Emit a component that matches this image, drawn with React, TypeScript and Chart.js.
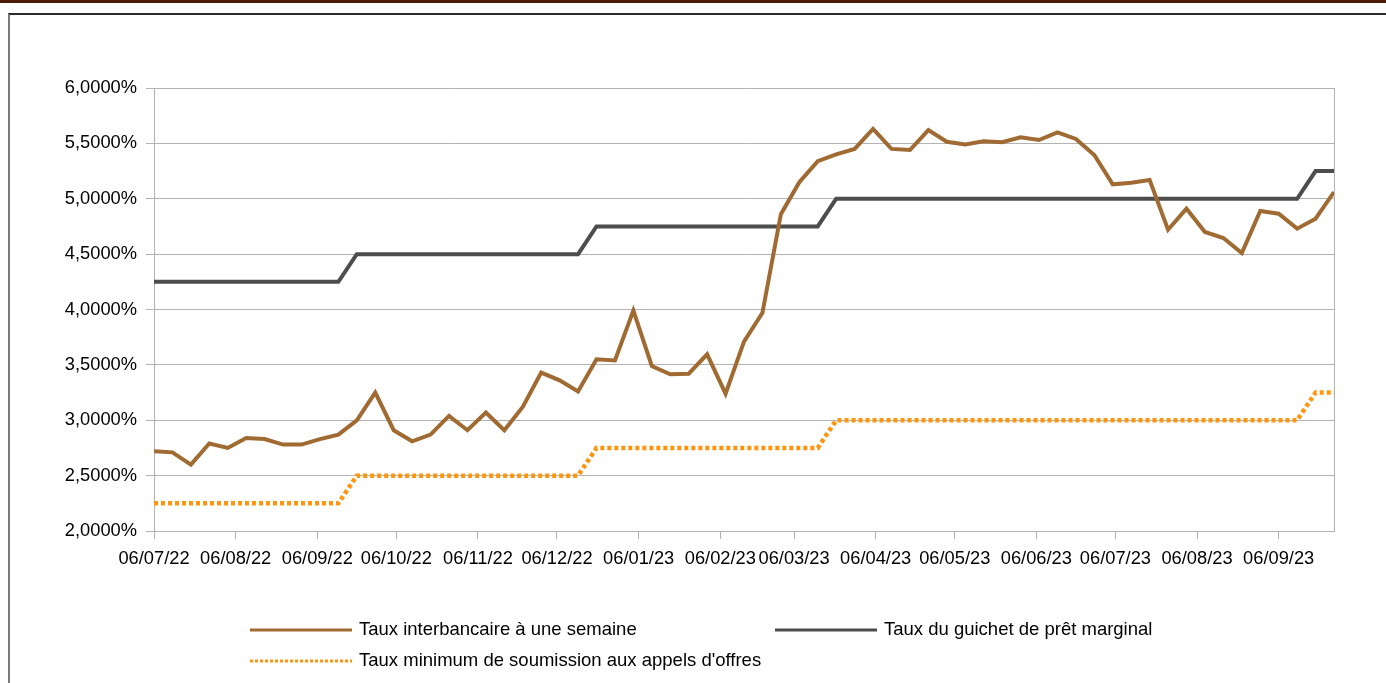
import React, { useEffect, useRef } from "react";
import { Chart, registerables } from "chart.js";

Chart.register(...registerables);

// Weekly observation dates
const weekDates = [
  "2022-07-06", "2022-07-13", "2022-07-20", "2022-07-27", "2022-08-03", "2022-08-10", "2022-08-17",
  "2022-08-24", "2022-08-31", "2022-09-07", "2022-09-14", "2022-09-21", "2022-09-28", "2022-10-05",
  "2022-10-12", "2022-10-19", "2022-10-26", "2022-11-02", "2022-11-09", "2022-11-16", "2022-11-23",
  "2022-11-30", "2022-12-07", "2022-12-14", "2022-12-21", "2022-12-28", "2023-01-04", "2023-01-11",
  "2023-01-18", "2023-01-25", "2023-02-01", "2023-02-08", "2023-02-15", "2023-02-22", "2023-03-01",
  "2023-03-08", "2023-03-15", "2023-03-22", "2023-03-29", "2023-04-05", "2023-04-12", "2023-04-19",
  "2023-04-26", "2023-05-03", "2023-05-10", "2023-05-17", "2023-05-24", "2023-05-31", "2023-06-07",
  "2023-06-14", "2023-06-21", "2023-06-28", "2023-07-05", "2023-07-12", "2023-07-19", "2023-07-26",
  "2023-08-02", "2023-08-09", "2023-08-16", "2023-08-23", "2023-08-30", "2023-09-06", "2023-09-13",
  "2023-09-20", "2023-09-27",
];

const interbankRate = [
  2.72, 2.71, 2.6, 2.79, 2.75, 2.84, 2.83, 2.78, 2.78, 2.83, 2.87, 3.0, 3.25, 2.91,
  2.81, 2.87, 3.04, 2.91, 3.07, 2.91, 3.12, 3.43, 3.36, 3.26, 3.55, 3.54, 3.99, 3.49,
  3.415, 3.42, 3.595, 3.24, 3.71, 3.97, 4.86, 5.15, 5.34, 5.4, 5.45, 5.63, 5.45, 5.44,
  5.62, 5.515, 5.49, 5.52, 5.51, 5.555, 5.53, 5.6, 5.54, 5.395, 5.13, 5.145, 5.17, 4.72,
  4.91, 4.7, 4.645, 4.51, 4.89, 4.865, 4.73, 4.82, 5.06,
];

const marginalLendingRate = [
  4.25, 4.25, 4.25, 4.25, 4.25, 4.25, 4.25, 4.25, 4.25, 4.25, 4.25, 4.5, 4.5, 4.5,
  4.5, 4.5, 4.5, 4.5, 4.5, 4.5, 4.5, 4.5, 4.5, 4.5, 4.75, 4.75, 4.75, 4.75,
  4.75, 4.75, 4.75, 4.75, 4.75, 4.75, 4.75, 4.75, 4.75, 5.0, 5.0, 5.0, 5.0, 5.0,
  5.0, 5.0, 5.0, 5.0, 5.0, 5.0, 5.0, 5.0, 5.0, 5.0, 5.0, 5.0, 5.0, 5.0,
  5.0, 5.0, 5.0, 5.0, 5.0, 5.0, 5.0, 5.25, 5.25,
];

const minimumBidRate = [
  2.25, 2.25, 2.25, 2.25, 2.25, 2.25, 2.25, 2.25, 2.25, 2.25, 2.25, 2.5, 2.5, 2.5,
  2.5, 2.5, 2.5, 2.5, 2.5, 2.5, 2.5, 2.5, 2.5, 2.5, 2.75, 2.75, 2.75, 2.75,
  2.75, 2.75, 2.75, 2.75, 2.75, 2.75, 2.75, 2.75, 2.75, 3.0, 3.0, 3.0, 3.0, 3.0,
  3.0, 3.0, 3.0, 3.0, 3.0, 3.0, 3.0, 3.0, 3.0, 3.0, 3.0, 3.0, 3.0, 3.0,
  3.0, 3.0, 3.0, 3.0, 3.0, 3.0, 3.0, 3.25, 3.25,
];

const monthTickLabels = [
  "06/07/22", "06/08/22", "06/09/22", "06/10/22", "06/11/22", "06/12/22", "06/01/23",
  "06/02/23", "06/03/23", "06/04/23", "06/05/23", "06/06/23", "06/07/23", "06/08/23", "06/09/23",
];

const seriesLabels = [
  "Taux interbancaire à une semaine",
  "Taux du guichet de prêt marginal",
  "Taux minimum de soumission aux appels d'offres",
];

const DAY_MS = 86400000;
const START_MS = Date.UTC(2022, 6, 6);
const isoToDay = (iso: string) => {
  const [y, m, d] = iso.split("-").map(Number);
  return Math.round((Date.UTC(y, m - 1, d) - START_MS) / DAY_MS);
};
const labelToDay = (lab: string) => {
  const [d, m, y] = lab.split("/").map(Number);
  return Math.round((Date.UTC(2000 + y, m - 1, d) - START_MS) / DAY_MS);
};
const weekDays = weekDates.map(isoToDay);
const monthTickDays = monthTickLabels.map(labelToDay);
const toPoints = (vals: number[]) => vals.map((v, i) => ({ x: weekDays[i], y: v }));

const FONT_FAMILY = "'Liberation Sans', Arial, Helvetica, sans-serif";
const GRID = "#b3b3b3";

const legendPlugin = {
  id: "customLegendAndFrame",
  beforeDatasetsDraw(chart: any) {
    const { ctx, chartArea } = chart;
    ctx.save();
    ctx.strokeStyle = GRID;
    ctx.lineWidth = 1;
    ctx.beginPath();
    ctx.moveTo(Math.round(chartArea.right) + 0.5, chartArea.top);
    ctx.lineTo(Math.round(chartArea.right) + 0.5, chartArea.bottom);
    ctx.stroke();
    ctx.restore();
  },
  afterDraw(chart: any) {
    const ctx = chart.ctx;
    const slots = [
      { x: 250, y: 630 },
      { x: 775, y: 630 },
      { x: 250, y: 661 },
    ];
    chart.data.datasets.forEach((ds: any, i: number) => {
      const s = slots[i];
      ctx.save();
      ctx.strokeStyle = ds.borderColor;
      ctx.lineWidth = 3;
      ctx.lineCap = "butt";
      ctx.setLineDash(ds.borderDash ? [3, 2] : []);
      ctx.beginPath();
      ctx.moveTo(s.x, s.y);
      ctx.lineTo(s.x + 102, s.y);
      ctx.stroke();
      ctx.setLineDash([]);
      ctx.fillStyle = "#000";
      ctx.font = `18.5px ${FONT_FAMILY}`;
      ctx.textBaseline = "middle";
      ctx.textAlign = "left";
      ctx.fillText(ds.label, s.x + 109, s.y);
      ctx.restore();
    });
  },
};

export default function App() {
  const canvasRef = useRef<HTMLCanvasElement | null>(null);

  useEffect(() => {
    if (!canvasRef.current) return;
    const chart = new Chart(canvasRef.current, {
      type: "line",
      data: {
        datasets: [
          {
            label: seriesLabels[0],
            data: toPoints(interbankRate),
            borderColor: "#a06a33",
            backgroundColor: "#a06a33",
            borderWidth: 4,
            pointRadius: 0,
            tension: 0,
          },
          {
            label: seriesLabels[1],
            data: toPoints(marginalLendingRate),
            borderColor: "#4d4d4d",
            backgroundColor: "#4d4d4d",
            borderWidth: 4,
            pointRadius: 0,
            tension: 0,
          },
          {
            label: seriesLabels[2],
            data: toPoints(minimumBidRate),
            borderColor: "#ff950e",
            backgroundColor: "#ff950e",
            borderWidth: 4.5,
            borderDash: [4, 3],
            borderCapStyle: "butt",
            pointRadius: 0,
            tension: 0,
          },
        ],
      },
      options: {
        animation: false,
        responsive: false,
        maintainAspectRatio: false,
        layout: { padding: { left: 0, right: 52, top: 88, bottom: 107 } },
        plugins: {
          legend: { display: false },
          tooltip: { enabled: false },
        },
        scales: {
          x: {
            type: "linear",
            min: 0,
            max: weekDays[weekDays.length - 1],
            afterBuildTicks: (scale: any) => {
              scale.ticks = monthTickDays.map((v) => ({ value: v }));
            },
            afterFit: (scale: any) => {
              scale.height = 45;
            },
            ticks: {
              autoSkip: false,
              maxRotation: 0,
              minRotation: 0,
              padding: 9,
              color: "#000",
              font: { family: FONT_FAMILY, size: 18.3 },
              callback: (value: any) => {
                const idx = monthTickDays.indexOf(Number(value));
                return idx >= 0 ? monthTickLabels[idx] : "";
              },
            },
            grid: {
              drawOnChartArea: false,
              drawTicks: true,
              tickLength: 8,
              color: GRID,
            },
            border: { display: true, color: GRID, width: 1 },
          },
          y: {
            type: "linear",
            min: 2,
            max: 6,
            afterFit: (scale: any) => {
              scale.width = 154;
            },
            ticks: {
              stepSize: 0.5,
              padding: 9,
              color: "#000",
              font: { family: FONT_FAMILY, size: 18.3 },
              callback: (value: any) => Number(value).toFixed(4).replace(".", ",") + "%",
            },
            grid: {
              drawOnChartArea: true,
              drawTicks: true,
              tickLength: 8,
              color: GRID,
            },
            border: { display: true, color: GRID, width: 1 },
          },
        },
      },
      plugins: [legendPlugin],
    } as any);
    return () => chart.destroy();
  }, []);

  return (
    <div>
      <div
        style={{
          position: "fixed",
          left: 0,
          top: 0,
          width: "100%",
          height: 3,
          background: "#4b1d07",
        }}
      />
      <div
        style={{
          position: "fixed",
          left: 8,
          top: 13,
          right: 0,
          bottom: 0,
          borderLeft: "2px solid #7a7a7a",
          borderTop: "2px solid #2b2b2b",
        }}
      />
      <canvas
        ref={canvasRef}
        width={1386}
        height={683}
        style={{ position: "fixed", left: 0, top: 0, width: 1386, height: 683 }}
      />
    </div>
  );
}
